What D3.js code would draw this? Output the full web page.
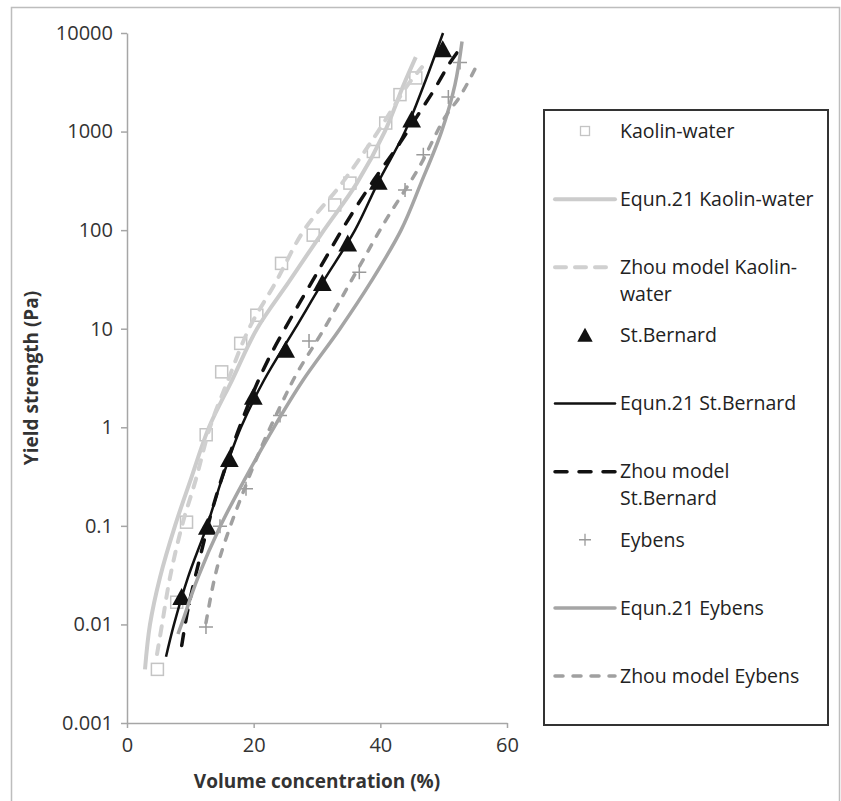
<!DOCTYPE html>
<html>
<head>
<meta charset="utf-8">
<script src="https://cdn.jsdelivr.net/npm/d3@7"></script>
<style>
    body { margin: 0; background: #fff; }
    svg { display: block; }
    .axis path, .axis line { stroke: #a6a6a6; stroke-width: 1.5; }
    .axis text { font-family: "Open Sans", sans-serif; font-size: 20px; fill: #333; }
    .title { font-family: "Open Sans", sans-serif; font-size: 19px; font-weight: bold; fill: #333; }
    .legend text { font-family: "Open Sans", sans-serif; font-size: 19.5px; fill: #222; }
</style>
</head>
<body>
<div id="chart"></div>
<script>
// Données : [concentration volumique (%), seuil (Pa)]
const kaolinPoints = [[4.8, 0.0035], [7.85, 0.0168], [9.4, 0.109], [12.5, 0.84], [14.95, 3.65], [17.95, 7.1],
    [20.5, 13.7], [24.4, 46], [29.4, 89], [32.8, 180], [35.2, 300], [38.9, 628], [40.85, 1220], [43.1, 2370], [45.6, 3500]];
const kaolinEqun = [[2.84, 0.0035], [3.63, 0.01], [5.21, 0.03], [7.58, 0.1], [10.1, 0.3], [12.95, 1], [16.58, 3],
    [20.53, 10], [25.58, 30], [31.1, 100], [36.3, 300], [40.7, 1000], [43.7, 3000], [45.6, 5700]];
const kaolinZhou = [[4.74, 0.005], [5.53, 0.01], [6.79, 0.03], [8.68, 0.1], [10.9, 0.3], [13.1, 1], [15.95, 3],
    [19.26, 10], [23.53, 30], [27.95, 100], [33.95, 300], [39.63, 1000], [44.37, 3000], [46.58, 4500]];

const bernardPoints = [[8.63, 0.0188], [12.68, 0.097], [16.16, 0.473], [19.95, 2.03], [25.05, 6.06], [30.84, 28.9],
    [34.85, 72.4], [39.68, 307], [44.95, 1318], [49.85, 6780]];
const bernardEqun = [[6.16, 0.0047], [7.42, 0.01], [9.63, 0.03], [12.63, 0.1], [15.0, 0.3], [18.0, 1], [21.63, 3],
    [26.53, 10], [30.95, 30], [36.0, 100], [39.6, 300], [43.9, 1000], [46.9, 3000], [49.9, 10000]];
const bernardZhou = [[8.64, 0.0061], [9.68, 0.0149], [11.53, 0.048], [13.42, 0.143], [15.95, 0.473], [19.42, 1.88],
    [22.26, 4.8], [26.05, 13.4], [30.0, 36.7], [34.42, 113], [39.0, 324], [43.11, 769], [46.27, 1590], [48.32, 2540],
    [51.0, 5000], [53.05, 7620]];

const eybensPoints = [[12.47, 0.0094], [14.68, 0.099], [18.79, 0.238], [24.16, 1.32], [28.74, 7.5], [36.68, 37.3],
    [43.9, 256], [46.79, 581], [50.74, 2240], [52.58, 5020]];
const eybensEqun = [[8.05, 0.008], [8.6, 0.01], [11.21, 0.03], [14.76, 0.1], [18.63, 0.3], [23.21, 1], [27.79, 3],
    [33.63, 10], [38.53, 30], [43.27, 100], [46.42, 300], [49.66, 1000], [51.79, 3000], [52.9, 8200]];
const eybensZhou = [[12.47, 0.0104], [13.63, 0.0258], [14.68, 0.048], [16.26, 0.097], [17.84, 0.181], [21.0, 0.584],
    [24.16, 1.61], [26.8, 3.51], [30.79, 9.2], [35.84, 34.3], [40.9, 127], [46.03, 424], [50.21, 1397], [52.58, 2275], [55.22, 4665]];

const xTicks = [0, 20, 40, 60];
const yTicks = [0.001, 0.01, 0.1, 1, 10, 100, 1000, 10000];
const yTickLabels = ["0.001", "0.01", "0.1", "1", "10", "100", "1000", "10000"];
const legendLabels = [["Kaolin-water"], ["Equn.21 Kaolin-water"], ["Zhou model Kaolin-", "water"], ["St.Bernard"],
    ["Equn.21 St.Bernard"], ["Zhou model", "St.Bernard"], ["Eybens"], ["Equn.21 Eybens"], ["Zhou model Eybens"]];

const width = 841, height = 801;

const svg = d3.select("#chart").append("svg")
    .attr("width", width)
    .attr("height", height);

// cadre extérieur gris
svg.append("rect")
    .attr("x", 11.5).attr("y", 7.5)
    .attr("width", 828).attr("height", 820)
    .attr("fill", "none").attr("stroke", "#bdbdbd").attr("stroke-width", 1.5);

const x = d3.scaleLinear().domain([0, 60]).range([127, 507]);
const y = d3.scaleLog().domain([0.001, 10000]).range([723, 33]);

// axes
svg.append("g")
    .attr("class", "axis")
    .attr("transform", "translate(0,723)")
    .call(d3.axisBottom(x).tickValues(xTicks).tickSize(5).tickSizeOuter(0).tickPadding(10));

svg.append("g")
    .attr("class", "axis")
    .attr("transform", "translate(127,0)")
    .call(d3.axisLeft(y).tickValues(yTicks).tickSize(6).tickSizeOuter(0).tickPadding(8)
        .tickFormat((d, i) => yTickLabels[i]));

svg.append("text")
    .attr("class", "title")
    .attr("x", 317).attr("y", 788)
    .attr("text-anchor", "middle")
    .text("Volume concentration (%)");

svg.append("text")
    .attr("class", "title")
    .attr("transform", "translate(38,378) rotate(-90)")
    .attr("text-anchor", "middle")
    .text("Yield strength (Pa)");

// styles des séries
const lightGrey = "#cccccc", black = "#111111", midGrey = "#a5a5a5";

const line = d3.line()
    .x(d => x(d[0]))
    .y(d => y(d[1]))
    .curve(d3.curveCatmullRom.alpha(0.5));

function drawLine(data, color, w, dash) {
    svg.append("path")
        .datum(data)
        .attr("d", line)
        .attr("fill", "none")
        .attr("stroke", color)
        .attr("stroke-width", w)
        .attr("stroke-linecap", dash ? "round" : "butt")
        .attr("stroke-dasharray", dash || null);
}

const triangle = s => `M0,${-s * 0.55}L${s * 0.55},${s * 0.45}L${-s * 0.55},${s * 0.45}Z`;

function drawSquares(g, data, s) {
    g.selectAll(null).data(data).enter().append("rect")
        .attr("x", d => x(d[0]) - s / 2).attr("y", d => y(d[1]) - s / 2)
        .attr("width", s).attr("height", s)
        .attr("fill", "none").attr("stroke", "#c4c4c4").attr("stroke-width", 1.5);
}
function drawTriangles(g, data, s) {
    g.selectAll(null).data(data).enter().append("path")
        .attr("transform", d => `translate(${x(d[0])},${y(d[1])})`)
        .attr("d", triangle(s))
        .attr("fill", black);
}
function drawCrosses(g, data, s) {
    g.selectAll(null).data(data).enter().append("path")
        .attr("transform", d => `translate(${x(d[0])},${y(d[1])})`)
        .attr("d", `M${-s / 2},0H${s / 2}M0,${-s / 2}V${s / 2}`)
        .attr("stroke", "#9a9a9a").attr("stroke-width", 1.5);
}

// Kaolin-water
drawSquares(svg.append("g"), kaolinPoints, 12);
drawLine(kaolinEqun, lightGrey, 4);
drawLine(kaolinZhou, "#d0d0d0", 4, "9,10");
// St.Bernard
drawTriangles(svg.append("g"), bernardPoints, 17);
drawLine(bernardEqun, black, 2.5);
drawLine(bernardZhou, black, 3.5, "12,12");
// Eybens
drawCrosses(svg.append("g"), eybensPoints, 14);
drawLine(eybensEqun, midGrey, 3.5);
drawLine(eybensZhou, "#a0a0a0", 3.5, "7,10");

// légende
const legend = svg.append("g").attr("class", "legend");
legend.append("rect")
    .attr("x", 544).attr("y", 110)
    .attr("width", 284).attr("height", 615)
    .attr("fill", "#fff").attr("stroke", "#333").attr("stroke-width", 2);

const legendY = d3.scaleLinear().domain([0, 8]).range([131, 676]);
const mx = 585, lx0 = 555, lx1 = 615, tx = 620;

legendLabels.forEach((lines, i) => {
    const cy = legendY(i);
    lines.forEach((t, j) => {
        legend.append("text")
            .attr("x", tx).attr("y", cy + j * 27)
            .attr("dy", "0.35em")
            .text(t);
    });
});

function legendLine(i, color, w, dash) {
    legend.append("line")
        .attr("x1", lx0).attr("x2", lx1)
        .attr("y1", legendY(i)).attr("y2", legendY(i))
        .attr("stroke", color).attr("stroke-width", w)
        .attr("stroke-linecap", "round")
        .attr("stroke-dasharray", dash || null);
}

legend.append("rect")
    .attr("x", mx - 4.5).attr("y", legendY(0) - 4.5)
    .attr("width", 9).attr("height", 9)
    .attr("fill", "none").attr("stroke", "#c4c4c4").attr("stroke-width", 1.3);
legendLine(1, lightGrey, 4);
legendLine(2, "#d0d0d0", 4, "11,9");
legend.append("path")
    .attr("transform", `translate(${mx},${legendY(3)})`)
    .attr("d", triangle(14))
    .attr("fill", black);
legendLine(4, black, 2.5);
legendLine(5, black, 3.5, "12,12");
legend.append("path")
    .attr("transform", `translate(${mx},${legendY(6)})`)
    .attr("d", "M-6,0H6M0,-6V6")
    .attr("stroke", "#9a9a9a").attr("stroke-width", 1.3);
legendLine(7, midGrey, 3.5);
legendLine(8, "#a0a0a0", 3.5, "8,10");
</script>
</body>
</html>
